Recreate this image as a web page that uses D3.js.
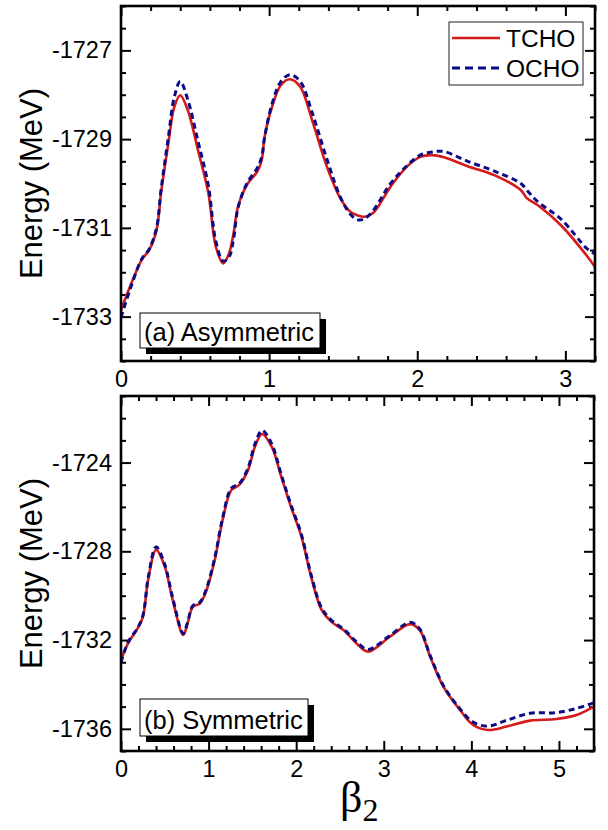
<!DOCTYPE html>
<html>
<head>
<meta charset="utf-8">
<script src="https://cdn.jsdelivr.net/npm/d3@7/dist/d3.min.js"></script>
<style>
  html, body { margin: 0; padding: 0; background: #fff; }
  svg { display: block; font-family: "Liberation Sans", Arial, sans-serif; }
</style>
</head>
<body>
<svg id="chart" width="608" height="830"></svg>
<script>
// Panel (a): asymmetric fission path
const betaA = [0.00, 0.06, 0.14, 0.19, 0.24, 0.27, 0.32, 0.36, 0.40, 0.45, 0.52, 0.59, 0.64, 0.69, 0.73, 0.76,
  0.79, 0.85, 0.92, 0.95, 0.97, 1.02, 1.08, 1.14, 1.21, 1.29, 1.39, 1.48, 1.55, 1.60, 1.64, 1.70,
  1.82, 1.93, 2.02, 2.10, 2.18, 2.34, 2.52, 2.70, 2.74, 2.81, 2.97, 3.15, 3.20];
const tchoA = [-1732.85, -1732.33, -1731.72, -1731.50, -1731.05, -1730.22, -1729.09, -1728.27, -1728.01, -1728.34,
  -1729.25, -1730.22, -1731.42, -1731.80, -1731.57, -1731.12,
  -1730.52, -1730.03, -1729.73, -1729.47, -1728.94, -1728.27, -1727.78, -1727.65, -1727.82, -1728.57, -1729.62,
  -1730.33, -1730.64, -1730.72, -1730.75, -1730.67,
  -1730.07, -1729.62, -1729.40, -1729.36, -1729.41, -1729.61, -1729.81, -1730.15, -1730.33, -1730.48, -1730.94,
  -1731.65, -1731.88];
const ochoA = [-1733.02, -1732.40, -1731.70, -1731.48, -1731.00, -1730.15, -1728.95, -1728.05, -1727.70, -1728.10,
  -1729.05, -1730.05, -1731.30, -1731.75, -1731.65, -1731.25,
  -1730.55, -1730.00, -1729.65, -1729.40, -1728.95, -1728.20, -1727.70, -1727.55, -1727.70, -1728.40, -1729.45,
  -1730.30, -1730.70, -1730.82, -1730.80, -1730.62,
  -1730.00, -1729.60, -1729.36, -1729.29, -1729.28, -1729.50, -1729.72, -1730.00, -1730.15, -1730.40, -1730.80,
  -1731.48, -1731.58];

// Panel (b): symmetric fission path
const betaB = [0.00, 0.08, 0.19, 0.25, 0.31, 0.40, 0.50, 0.59, 0.71, 0.76, 0.82, 0.90, 0.97, 1.07, 1.16, 1.26,
  1.35, 1.45, 1.53, 1.61, 1.72, 1.83, 1.94, 2.06, 2.17, 2.29, 2.40, 2.54, 2.69, 2.82, 3.07, 3.30,
  3.41, 3.53, 3.68, 3.87, 4.02, 4.19, 4.40, 4.67, 4.97, 5.20, 5.40];
const tchoB = [-1732.90, -1732.15, -1731.47, -1730.95, -1729.29, -1727.94, -1728.69, -1730.19, -1731.77, -1731.25,
  -1730.50, -1730.35, -1729.82, -1728.39, -1726.59, -1725.24,
  -1725.01, -1724.34, -1723.28, -1722.71, -1723.28, -1724.64, -1725.99, -1727.34, -1729.14, -1730.64, -1731.17,
  -1731.55, -1732.15, -1732.52, -1731.85, -1731.28,
  -1731.55, -1732.75, -1734.10, -1735.15, -1735.83, -1736.05, -1735.90, -1735.63, -1735.56, -1735.38, -1735.00];
const ochoB = [-1733.00, -1732.10, -1731.45, -1730.90, -1729.20, -1727.80, -1728.60, -1730.10, -1731.70, -1731.20,
  -1730.45, -1730.30, -1729.75, -1728.30, -1726.50, -1725.15,
  -1724.95, -1724.25, -1723.15, -1722.55, -1723.15, -1724.55, -1725.90, -1727.25, -1729.05, -1730.55, -1731.10,
  -1731.50, -1732.08, -1732.42, -1731.80, -1731.20,
  -1731.50, -1732.70, -1734.05, -1735.10, -1735.70, -1735.88, -1735.62, -1735.30, -1735.27, -1735.08, -1734.82];

// Axis tick values
const xMajorA = [0, 1, 2, 3];
const yMajorA = [-1733, -1731, -1729, -1727];
const xMajorB = [0, 1, 2, 3, 4, 5];
const yMajorB = [-1736, -1732, -1728, -1724];

const seriesNames = ["TCHO", "OCHO"];
const panelLabels = ["(a) Asymmetric", "(b) Symmetric"];

const RED = "#d51a1a";
const BLUE = "#0b0b87";

const svg = d3.select("#chart");

function range(a, b, step) {
  const out = [];
  const n = Math.round((b - a) / step);
  for (let i = 0; i <= n; i++) out.push(+(a + i * step).toFixed(6));
  return out;
}

function drawPanel(cfg) {
  const { left, right, top, bottom, xDomain, yDomain, xMajor, xMinorStep, yMajor, yMinorStep,
          beta, tcho, ocho, label, labelBox, legend } = cfg;
  const x = d3.scaleLinear().domain(xDomain).range([left, right]);
  const y = d3.scaleLinear().domain(yDomain).range([bottom, top]);
  const g = svg.append("g");

  const xMinor = range(xDomain[0], xDomain[1], xMinorStep).filter(v => !xMajor.some(m => Math.abs(m - v) < 1e-6));
  const yMinor = range(yDomain[0], yDomain[1], yMinorStep).filter(v => !yMajor.some(m => Math.abs(m - v) < 1e-6));

  const styleAxis = sel => {
    sel.select(".domain").remove();
    sel.selectAll(".tick line").attr("stroke", "#000").attr("stroke-width", 2);
    sel.selectAll(".tick text").attr("fill", "#000").attr("font-size", 23.5)
      .attr("font-family", "Liberation Sans, Arial, sans-serif");
  };

  // bottom axis with labels
  g.append("g").attr("transform", `translate(0,${bottom})`)
    .call(d3.axisBottom(x).tickValues(xMajor).tickSizeInner(-10).tickSizeOuter(0).tickPadding(9)
      .tickFormat(d => String(d)))
    .call(styleAxis);
  g.append("g").attr("transform", `translate(0,${bottom})`)
    .call(d3.axisBottom(x).tickValues(xMinor).tickSizeInner(-5).tickSizeOuter(0).tickFormat(""))
    .call(styleAxis);
  // top mirror
  g.append("g").attr("transform", `translate(0,${top})`)
    .call(d3.axisTop(x).tickValues(xMajor).tickSizeInner(-10).tickSizeOuter(0).tickFormat(""))
    .call(styleAxis);
  g.append("g").attr("transform", `translate(0,${top})`)
    .call(d3.axisTop(x).tickValues(xMinor).tickSizeInner(-5).tickSizeOuter(0).tickFormat(""))
    .call(styleAxis);
  // left axis with labels
  g.append("g").attr("transform", `translate(${left},0)`)
    .call(d3.axisLeft(y).tickValues(yMajor).tickSizeInner(-10).tickSizeOuter(0).tickPadding(9)
      .tickFormat(d => String(d)))
    .call(styleAxis);
  g.append("g").attr("transform", `translate(${left},0)`)
    .call(d3.axisLeft(y).tickValues(yMinor).tickSizeInner(-5).tickSizeOuter(0).tickFormat(""))
    .call(styleAxis);
  // right mirror
  g.append("g").attr("transform", `translate(${right},0)`)
    .call(d3.axisRight(y).tickValues(yMajor).tickSizeInner(-10).tickSizeOuter(0).tickFormat(""))
    .call(styleAxis);
  g.append("g").attr("transform", `translate(${right},0)`)
    .call(d3.axisRight(y).tickValues(yMinor).tickSizeInner(-5).tickSizeOuter(0).tickFormat(""))
    .call(styleAxis);

  // clip curves to plot area
  const clipId = "clip" + top;
  svg.append("defs").append("clipPath").attr("id", clipId)
    .append("rect").attr("x", left).attr("y", top).attr("width", right - left).attr("height", bottom - top);

  const line = d3.line().x(d => x(d[0])).y(d => y(d[1])).curve(d3.curveCatmullRom.alpha(0.5));
  const curves = g.append("g").attr("clip-path", `url(#${clipId})`);
  curves.append("path").datum(beta.map((b, i) => [b, tcho[i]]))
    .attr("d", line).attr("fill", "none").attr("stroke", RED).attr("stroke-width", 2.6);
  curves.append("path").datum(beta.map((b, i) => [b, ocho[i]]))
    .attr("d", line).attr("fill", "none").attr("stroke", BLUE).attr("stroke-width", 3)
    .attr("stroke-dasharray", "6,4");

  // frame
  g.append("rect").attr("x", left).attr("y", top).attr("width", right - left).attr("height", bottom - top)
    .attr("fill", "none").attr("stroke", "#000").attr("stroke-width", 2.6);

  // panel label box with drop shadow
  const lb = g.append("g");
  lb.append("rect").attr("x", labelBox.x + 6).attr("y", labelBox.y + 6)
    .attr("width", labelBox.w).attr("height", labelBox.h).attr("fill", "#000");
  lb.append("rect").attr("x", labelBox.x).attr("y", labelBox.y)
    .attr("width", labelBox.w).attr("height", labelBox.h).attr("fill", "#fff")
    .attr("stroke", "#000").attr("stroke-width", 1);
  lb.append("text").attr("x", labelBox.x + 4).attr("y", labelBox.y + labelBox.h - 7)
    .attr("font-size", 25.5).attr("fill", "#000").text(label);

  // y axis title
  g.append("text")
    .attr("transform", `translate(42,${(top + bottom) / 2}) rotate(-90)`)
    .attr("text-anchor", "middle").attr("font-size", 31).attr("fill", "#000")
    .text("Energy (MeV)");

  if (legend) {
    const lg = g.append("g");
    lg.append("rect").attr("x", legend.x).attr("y", legend.y).attr("width", legend.w).attr("height", legend.h)
      .attr("fill", "#fff").attr("stroke", "#222").attr("stroke-width", 1);
    const rows = [
      { name: seriesNames[0], color: RED, dash: null, w: 2.6 },
      { name: seriesNames[1], color: BLUE, dash: "8,5", w: 3 }
    ];
    rows.forEach((r, i) => {
      const cy = legend.y + 16 + i * 30;
      lg.append("line").attr("x1", legend.x + 3).attr("x2", legend.x + 51).attr("y1", cy).attr("y2", cy)
        .attr("stroke", r.color).attr("stroke-width", r.w).attr("stroke-dasharray", r.dash);
      lg.append("text").attr("x", legend.x + 57).attr("y", cy + 9)
        .attr("font-size", 24.5).attr("fill", "#000").text(r.name);
    });
  }
}

drawPanel({
  left: 121, right: 595, top: 6, bottom: 361,
  xDomain: [0, 3.2], yDomain: [-1734, -1726],
  xMajor: xMajorA, xMinorStep: 0.2, yMajor: yMajorA, yMinorStep: 0.5,
  beta: betaA, tcho: tchoA, ocho: ochoA,
  label: panelLabels[0], labelBox: { x: 140, y: 313, w: 180, h: 35 },
  legend: { x: 449, y: 22, w: 134, h: 63 }
});

drawPanel({
  left: 121, right: 594, top: 396, bottom: 751,
  xDomain: [0, 5.4], yDomain: [-1737, -1721],
  xMajor: xMajorB, xMinorStep: 0.2, yMajor: yMajorB, yMinorStep: 1,
  beta: betaB, tcho: tchoB, ocho: ochoB,
  label: panelLabels[1], labelBox: { x: 140, y: 699, w: 168, h: 37 },
  legend: null
});

// x axis title: beta with subscript 2
const xt = svg.append("text").attr("x", 340).attr("y", 812)
  .attr("font-family", "Liberation Serif, Times New Roman, serif").attr("fill", "#000");
xt.append("tspan").attr("font-size", 44).text("β");
xt.append("tspan").attr("font-size", 32).attr("dy", 9).text("2");
</script>
</body>
</html>
